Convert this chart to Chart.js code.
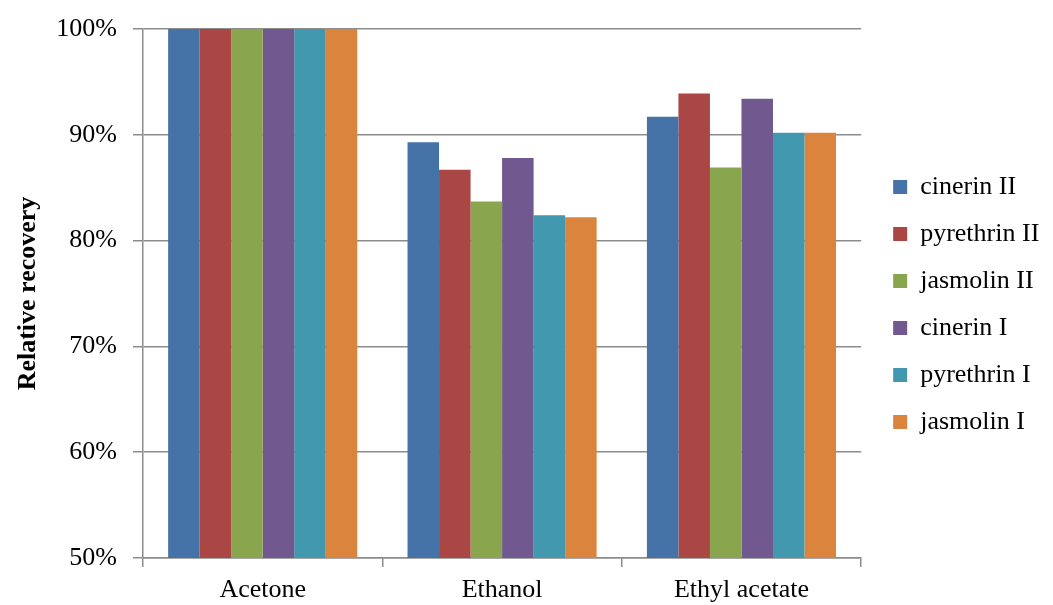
<!doctype html>
<html>
<head>
<meta charset="utf-8">
<title>Relative recovery</title>
<script src="https://cdn.jsdelivr.net/npm/chart.js@4.4.1/dist/chart.umd.min.js"></script>
<style>
  body { margin: 0; background: #fff; }
  #wrap { width: 1053px; height: 605px; }
</style>
</head>
<body>
<div id="wrap"><canvas id="myChart" width="1053" height="605"></canvas></div>
<script>
    // solvents on the x axis
    var solvents = ['Acetone', 'Ethanol', 'Ethyl acetate'];
    var compounds = ['cinerin II', 'pyrethrin II', 'jasmolin II', 'cinerin I', 'pyrethrin I', 'jasmolin I'];

    // relative recovery (%) per compound, in solvent order
    var cinerin2    = [100, 89.3, 91.7];
    var pyrethrin2  = [100, 86.7, 93.9];
    var jasmolin2   = [100, 83.7, 86.9];
    var cinerin1    = [100, 87.8, 93.4];
    var pyrethrin1  = [100, 82.4, 90.2];
    var jasmolin1   = [100, 82.2, 90.2];

    var yTicks = [50, 60, 70, 80, 90, 100];

    var colors = ['#4572A7', '#AA4643', '#89A54E', '#71588F', '#4198AF', '#DB843D'];
    var series = [cinerin2, pyrethrin2, jasmolin2, cinerin1, pyrethrin1, jasmolin1];

    var datasets = [];
    for (var i = 0; i < compounds.length; i++) {
        datasets.push({
            label: compounds[i],
            data: series[i],
            backgroundColor: colors[i],
            borderWidth: 0,
            barPercentage: 1.0,
            categoryPercentage: 0.79
        });
    }

    var serif = 'Liberation Serif, Times New Roman, serif';
    var gridGray = '#8c8c8c';
    var fs = 26;

    var ctx = document.getElementById('myChart').getContext('2d');
    var myChart = new Chart(ctx, {
        type: 'bar',
        data: { labels: solvents, datasets: datasets },
        options: {
            responsive: false,
            animation: false,
            layout: { padding: { top: 4, left: 13, right: 9, bottom: 0 } },
            plugins: {
                tooltip: { enabled: false },
                legend: {
                    position: 'right',
                    align: 'center',
                    labels: {
                        color: '#000',
                        font: { family: serif, size: fs },
                        boxWidth: 14,
                        boxHeight: 14,
                        padding: 21
                    }
                }
            },
            scales: {
                x: {
                    border: { color: gridGray, width: 1.5 },
                    grid: {
                        offset: true,
                        drawOnChartArea: false,
                        color: gridGray,
                        lineWidth: 1.5,
                        tickLength: 9
                    },
                    ticks: {
                        color: '#000',
                        font: { family: serif, size: fs },
                        padding: 8
                    },
                    afterFit: function (scale) { scale.height = 47; }
                },
                y: {
                    min: 50,
                    max: 100,
                    afterBuildTicks: function (axis) {
                        axis.ticks = yTicks.map(function (v) { return { value: v }; });
                    },
                    border: { color: gridGray, width: 1.5 },
                    grid: {
                        color: gridGray,
                        lineWidth: 1.5,
                        tickLength: 10
                    },
                    ticks: {
                        color: '#000',
                        font: { family: serif, size: fs, lineHeight: 1.0 },
                        padding: 16,
                        callback: function (v) { return v + '%'; }
                    },
                    title: {
                        display: true,
                        text: 'Relative recovery',
                        color: '#000',
                        font: { family: serif, size: fs, weight: 'bold' },
                        padding: { top: 0, bottom: 0 }
                    },
                    afterFit: function (scale) { scale.width = 130; }
                },
                // empty spacer between plot and legend
                gap: {
                    type: 'linear',
                    position: 'right',
                    display: true,
                    grid: { display: false },
                    border: { display: false },
                    ticks: { display: false },
                    afterFit: function (scale) { scale.width = 11; }
                }
            }
        }
    });
</script>
</body>
</html>
